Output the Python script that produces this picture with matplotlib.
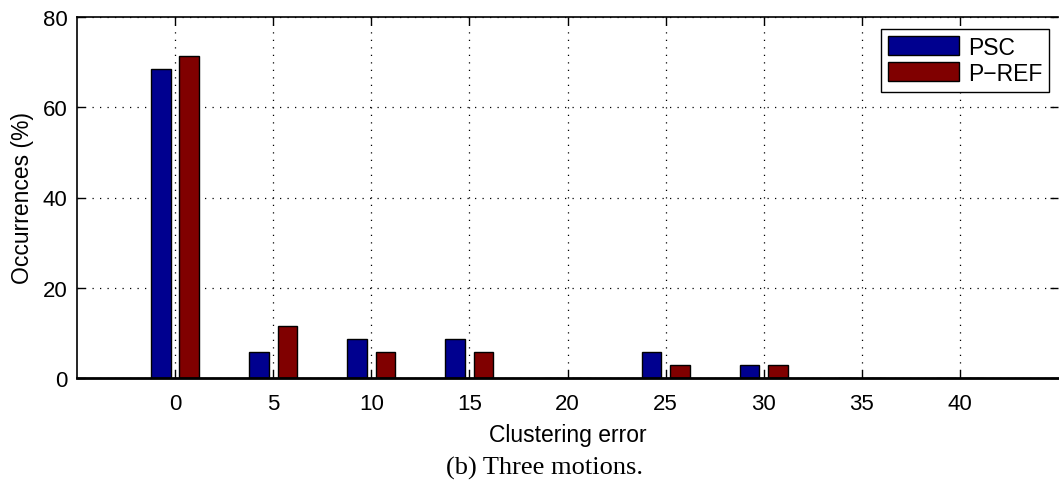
import matplotlib
matplotlib.use("Agg")
import matplotlib.pyplot as plt
import numpy as np

# Histogram of clustering error (three motions)
error_bins = [0, 5, 10, 15, 20, 25, 30, 35, 40]
psc = [68.57, 5.71, 8.57, 8.57, 0.0, 5.71, 2.86, 0.0, 0.0]
p_ref = [71.43, 11.43, 5.71, 5.71, 0.0, 2.86, 2.86, 0.0, 0.0]
series_names = ["PSC", "P\u2212REF"]

plt.rcParams["font.family"] = ["Liberation Sans", "DejaVu Sans"]

W, H = 1059, 481
fig = plt.figure(figsize=(W / 100, H / 100), dpi=100)
ax = fig.add_axes([77 / W, 1 - 379 / H, (1058 - 77) / W, (379 - 18) / H])

x = np.array(error_bins, dtype=float)
bw = 1.0
off = 0.72
ax.bar(x - off, psc, width=bw, color="#00008F", edgecolor="black",
       linewidth=1.0, label=series_names[0], zorder=3)
ax.bar(x + off, p_ref, width=bw, color="#800000", edgecolor="black",
       linewidth=1.0, label=series_names[1], zorder=3)

ax.set_xlim(-5, 45)
ax.set_ylim(0, 80)
ax.set_xticks(error_bins)
ax.set_yticks([0, 20, 40, 60, 80])
ax.tick_params(direction="in", length=6, width=1, labelsize=16,
               top=True, right=True)
ax.tick_params(axis="x", pad=11)
ax.tick_params(axis="y", pad=7)
ax.grid(True, linestyle=(0, (1, 5)), color="black", linewidth=0.9, zorder=0)
ax.spines["right"].set_visible(False)
for s in ["left", "top"]:
    ax.spines[s].set_linewidth(1.2)
ax.spines["bottom"].set_linewidth(2.0)
ax.spines["bottom"].set_zorder(4)

ax.set_xlabel("Clustering error", fontsize=16.5, labelpad=6)
ax.set_ylabel("Occurrences (%)", fontsize=16.5, labelpad=6)

leg = ax.legend(loc="upper right", bbox_to_anchor=(1049 / W, 1 - 30 / H),
                bbox_transform=fig.transFigure, borderaxespad=0,
                fontsize=16.5, fancybox=False, framealpha=1,
                handlelength=3.1, handleheight=0.9, labelspacing=0.12,
                handletextpad=0.4, borderpad=0.3)
leg.get_frame().set_edgecolor("black")
leg.get_frame().set_linewidth(1.0)

fig.text(545 / W, 1 - 475 / H, "(b) Three motions.", ha="center",
         va="baseline", fontsize=19,
         family=["Liberation Serif", "DejaVu Serif"])

fig.savefig("out.png", dpi=100)
